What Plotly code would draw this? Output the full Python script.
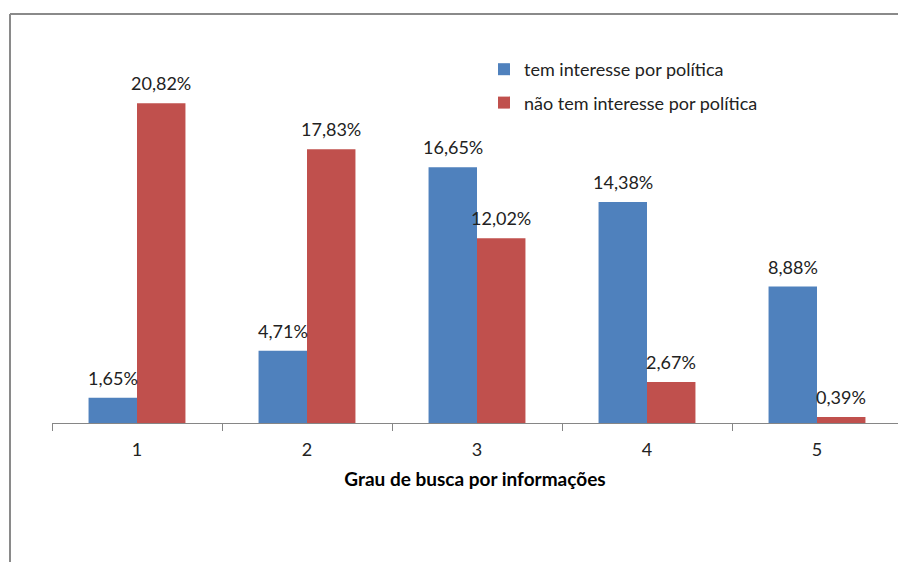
import plotly.graph_objects as go

categories = ["1", "2", "3", "4", "5"]
tem_interesse = [1.65, 4.71, 16.65, 14.38, 8.88]
nao_tem_interesse = [20.82, 17.83, 12.02, 2.67, 0.39]
series_names = ["tem interesse por política", "não tem interesse por política"]
x_title = "Grau de busca por informações"

def fmt(v):
    return f"{v:.2f}".replace(".", ",") + "%"

FONT = "Lato"
W, H = 898, 562
ML, MR, MT, MB = 52, 0, 39, 139
BARGAP = 0.43
TXT = "#222222"

fig = go.Figure()
series = [(tem_interesse, "#4F81BD"), (nao_tem_interesse, "#C0504D")]
for k, (vals, col) in enumerate(series):
    fig.add_trace(go.Bar(
        x=categories, y=vals, name=series_names[k],
        marker=dict(color=col, line=dict(width=0)),
        legendgroup=f"g{k}",
    ))

# data labels above each bar (offset within group derived from bargap)
bar_w = (1 - BARGAP) / len(series)
annotations = []
for k, (vals, col) in enumerate(series):
    off = -(1 - BARGAP) / 2 + bar_w * (k + 0.5)
    for i, v in enumerate(vals):
        annotations.append(dict(
            x=i + off, y=v, xref="x", yref="y", text=fmt(v),
            showarrow=False, yanchor="middle", yshift=20,
            font=dict(family=FONT, size=18, color=TXT),
        ))

pw = W - ML - MR
ph = H - MT - MB
ncat = pw / 170.0

def px_x(x):
    return (x - ML) / pw

def px_y(y):
    return (H - MB - y) / ph

fig.update_layout(
    width=W, height=H,
    margin=dict(l=ML, r=MR, t=MT, b=MB, pad=0),
    paper_bgcolor="white", plot_bgcolor="white",
    barmode="group", bargap=BARGAP, bargroupgap=0,
    font=dict(family=FONT, size=18, color=TXT),
    showlegend=True,
    legend=dict(
        x=px_x(484), y=px_y(51), xanchor="left", yanchor="top",
        font=dict(family=FONT, size=18, color=TXT),
        tracegroupgap=7, bgcolor="rgba(0,0,0,0)",
        traceorder="grouped",
    ),
    xaxis=dict(
        type="category", range=[-0.5, -0.5 + ncat],
        showline=True, linecolor="#868686", linewidth=1,
        ticks="outside", tickson="boundaries", ticklen=7, tickcolor="#868686",
        ticklabelstandoff=10,
        showgrid=False, tickfont=dict(family=FONT, size=18, color=TXT),
        title=dict(text="<b>" + x_title + "</b>", standoff=14,
                   font=dict(family=FONT, size=19, color="#000000")),
        fixedrange=True,
    ),
    yaxis=dict(
        range=[0, 25], visible=False, showgrid=False, zeroline=False,
        fixedrange=True,
    ),
    annotations=annotations,
    shapes=[
        dict(type="line", xref="paper", yref="paper",
             x0=px_x(10), x1=px_x(10), y0=px_y(14), y1=px_y(H + 5),
             line=dict(color="#8A8A8A", width=2)),
        dict(type="line", xref="paper", yref="paper",
             x0=px_x(10), x1=px_x(W + 5), y0=px_y(14), y1=px_y(14),
             line=dict(color="#8A8A8A", width=2)),
    ],
)

fig.write_html("out.html", config={"displayModeBar": False},
               post_script="document.body.style.margin='0';")
